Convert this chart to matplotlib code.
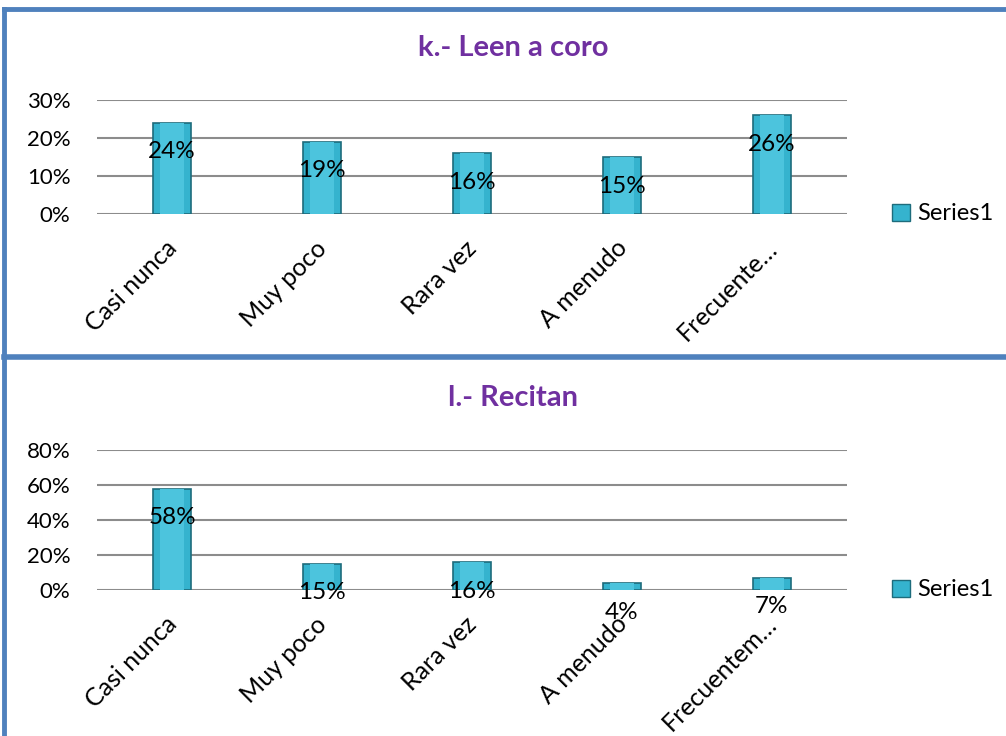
import matplotlib.pyplot as plt
import matplotlib.transforms as mtransforms
from matplotlib.patches import Patch
from matplotlib.lines import Line2D

plt.rcParams['font.family'] = ['Lato', 'DejaVu Sans']

# chart data
categories_k = ["Casi nunca", "Muy poco", "Rara vez", "A menudo", "Frecuente…"]
values_k = [0.24, 0.19, 0.16, 0.15, 0.26]
ticks_k = [0, 0.1, 0.2, 0.3]

categories_l = ["Casi nunca", "Muy poco", "Rara vez", "A menudo", "Frecuentem…"]
values_l = [0.58, 0.15, 0.16, 0.04, 0.07]
ticks_l = [0, 0.2, 0.4, 0.6, 0.8]

BAR = "#35B3CE"
LIGHT = "#4CC4DD"
EDGE = "#1E6C7C"
GRID = "#8C8C8C"
TITLE = "#7030A0"
FRAME = "#4F81BD"

W, H = 1006, 736


def fx(px):
    return px / W


def fy(py):
    return 1 - py / H


def panel(fig, rect, title, title_y, cats, vals, ticks):
    ax = fig.add_axes(rect)
    x = range(len(cats))
    ax.bar(x, vals, width=0.25, color=BAR, edgecolor=EDGE, linewidth=1.2, zorder=3)
    # lighter inner face for the bevelled look
    ax.bar(x, vals, width=0.16, color=LIGHT, linewidth=0, zorder=4)
    ax.set_xlim(-0.5, len(cats) - 0.5)
    ax.set_ylim(0, ticks[-1])
    ax.set_yticks(ticks)
    ax.set_yticklabels([f"{int(round(t * 100))}%" for t in ticks], fontsize=16)
    ax.yaxis.grid(True, color=GRID, linewidth=1.5, zorder=0)
    ax.set_axisbelow(True)
    for s in ax.spines.values():
        s.set_visible(False)
    ax.tick_params(axis="both", length=0)
    ax.tick_params(axis="y", pad=19)
    ax.set_xticks(list(x))
    ax.set_xticklabels(cats, rotation=45, ha="right", rotation_mode="anchor", fontsize=18)
    ax.tick_params(axis="x", pad=16)
    shift = mtransforms.ScaledTranslation(-7 / 100, 0, fig.dpi_scale_trans)
    for lab in ax.get_xticklabels():
        lab.set_transform(lab.get_transform() + shift)

    for xi, v in zip(x, vals):
        ax.annotate(f"{int(round(v * 100))}%", (xi, v), xytext=(0, -21),
                    textcoords="offset points", ha="center", va="center",
                    fontsize=17.5, zorder=5)

    h = Patch(facecolor=BAR, edgecolor=EDGE)
    ax.legend([h], ["Series1"], loc="center left", bbox_to_anchor=(1.032, 0.0),
              frameon=False, fontsize=17, handlelength=0.75, handleheight=0.75,
              handletextpad=0.3)

    fig.text(0.51, title_y, title, ha="center", va="center", fontsize=21,
             fontweight="bold", color=TITLE)
    return ax


fig = plt.figure(figsize=(W / 100, H / 100), dpi=100)

# top chart: 0% at y=214, 30% at y=100
panel(fig, [fx(97), fy(214), fx(750), fy(100) - fy(214)], "k.- Leen a coro",
      fy(48), categories_k, values_k, ticks_k)

# bottom chart: 0% at y=590, 80% at y=450
panel(fig, [fx(97), fy(590), fx(750), fy(450) - fy(590)], "l.- Recitan",
      fy(398), categories_l, values_l, ticks_l)

# blue chart frames
fig.add_artist(Line2D([fx(4), 1], [fy(9), fy(9)], color=FRAME, linewidth=3.5))
fig.add_artist(Line2D([fx(4), fx(4)], [fy(9), 0], color=FRAME, linewidth=3.5))
fig.add_artist(Line2D([fx(4), 1], [fy(357), fy(357)], color=FRAME, linewidth=4))

fig.savefig("out.png", dpi=100)
